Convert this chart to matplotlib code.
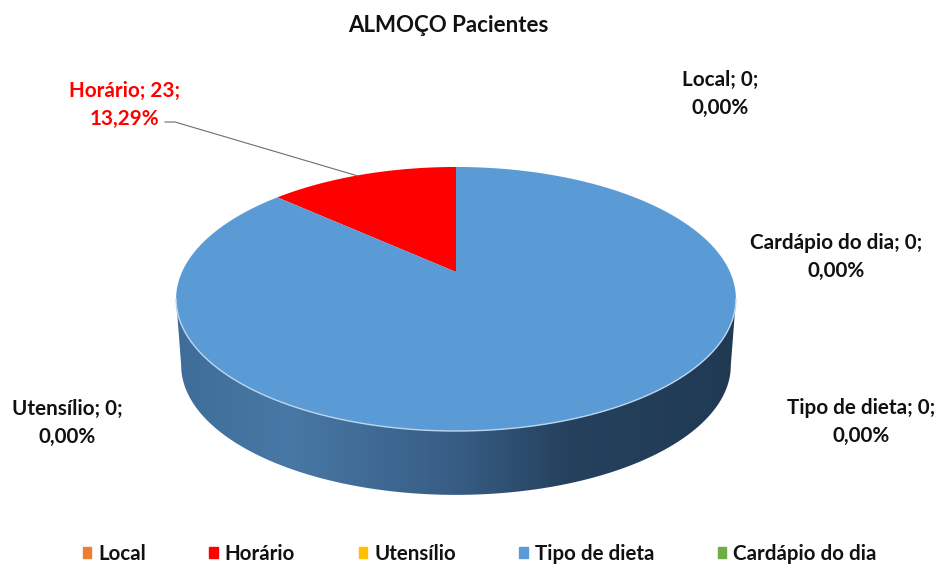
import numpy as np
import matplotlib
matplotlib.use("Agg")
import matplotlib.pyplot as plt
from matplotlib.colors import LinearSegmentedColormap
from matplotlib.patches import Patch, Polygon

plt.rcParams['font.family'] = ['Lato', 'DejaVu Sans']

categories = ["Local", "Horário", "Utensílio", "Tipo de dieta", "Cardápio do dia"]
values = [0, 23, 0, 150, 0]
# o rotulo de Tipo de dieta no original mostra 0, mesmo com a fatia azul
label_values = [0, 23, 0, 0, 0]
label_pcts = ["0,00%", "13,29%", "0,00%", "0,00%", "0,00%"]
colors = ["#ED7D31", "#FF0000", "#FFC000", "#5B9BD5", "#70AD47"]
label_pos = {"Local": (720, 94), "Horário": (125, 105), "Utensílio": (67, 423),
             "Cardápio do dia": (836, 257), "Tipo de dieta": (861, 422)}

# perspectiva do disco, medida na imagem
K = 0.2045


def project(theta, r, a, cy, cx=456):
    # theta em graus, sentido horario a partir do topo
    t = np.radians(theta)
    u, v = np.sin(t), np.cos(t)
    w = 1 + K * v
    return cx + r * u / w, cy - a * v / w


fig = plt.figure(figsize=(9.39, 5.67), dpi=100)
ax = fig.add_axes([0, 0, 1, 1])
ax.set_xlim(0, 939)
ax.set_ylim(567, 0)
ax.axis("off")

# lateral: arco da frente do topo + arco da frente da base
start = np.degrees(np.arccos(-K))
front = np.linspace(start, 360 - start, 200)
tx, ty = project(front, 274, 126.5, 272)
bx, by = project(front, 269, 124, 339)
side = np.column_stack([np.r_[tx, bx[::-1]], np.r_[ty, by[::-1]]])

side_cmap = LinearSegmentedColormap.from_list("side", [
    (0.0, "#3F6D99"), (0.2, "#4878A5"), (0.5, "#375D84"),
    (0.7, "#25415D"), (1.0, "#203A54")])
img = ax.imshow(np.linspace(0, 1, 256)[None, :], cmap=side_cmap, aspect="auto",
                extent=(176, 737, 500, 290), zorder=1)
clip = Polygon(side, closed=True, transform=ax.transData, fc="none", ec="none")
ax.add_patch(clip)
img.set_clip_path(clip)
ax.set_xlim(0, 939)
ax.set_ylim(567, 0)

# topo: Horário termina exatamente no topo do disco
total = sum(values)
angle = -360 * values[1] / total
for name, val, col in zip(categories, values, colors):
    if val == 0:
        continue
    span = 360 * val / total
    th = np.linspace(angle, angle + span, 300)
    x, y = project(th, 274, 126.5, 272)
    ax.fill(np.r_[456, x], np.r_[272, y], color=col, lw=0, zorder=2)
    angle += span

ax.plot(tx, ty, color="#BBD6EE", lw=1, zorder=3)

# linha de chamada do Horário
ax.plot([165, 175, 358], [122, 122, 176], color="#6E6E6E", lw=0.8, zorder=4)

# rotulos
for name, val, pct in zip(categories, label_values, label_pcts):
    ax.text(*label_pos[name], f"{name}; {val};\n{pct}", ha="center", va="center",
            fontsize=14.9, fontweight="bold", linespacing=1.45,
            color="#FF0000" if val else "#111111", zorder=5)

ax.text(448, 26, "ALMOÇO Pacientes", ha="center", va="center", fontsize=16,
        fontweight="bold", color="#111111")

handles = [Patch(color=c, label=n) for n, c in zip(categories, colors)]
ax.legend(handles=handles, ncol=5, frameon=False, loc="center",
          bbox_to_anchor=(479.5 / 939, 1 - 554 / 567),
          handlelength=0.4, handleheight=0.4, handletextpad=0.35,
          columnspacing=3.09, prop={"weight": "bold", "size": 14.8},
          labelcolor="#111111")

fig.savefig("out.png", dpi=100)
